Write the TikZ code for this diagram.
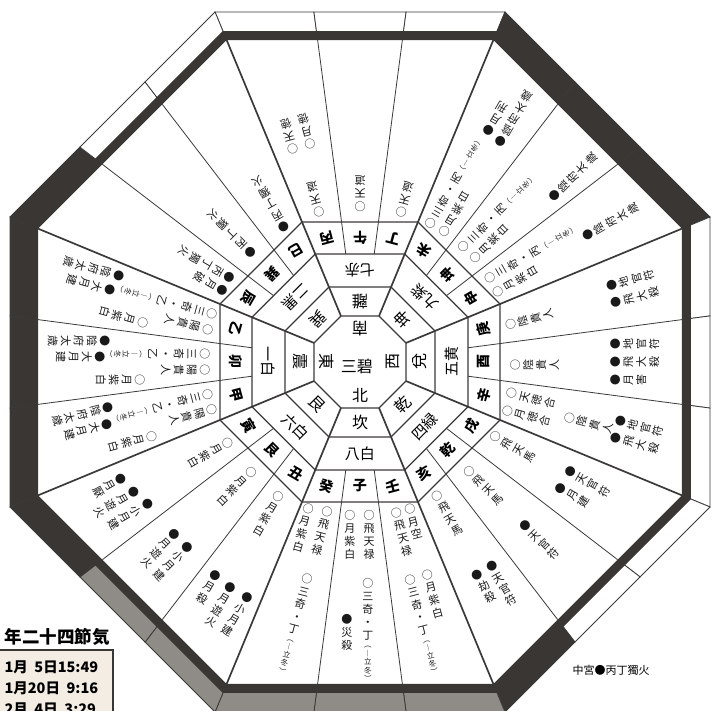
\documentclass[tikz,border=0pt]{standalone}
\usepackage{fontspec}
\setmainfont{Noto Sans CJK JP}
\usetikzlibrary{calc}
\definecolor{framedark}{HTML}{3A3634}
\definecolor{framegray}{HTML}{8F8B87}
\definecolor{rule}{HTML}{3C3A39}
\definecolor{tabbg}{HTML}{F3EDE4}
\newcounter{labno}
\ExplSyntaxOn
\NewDocumentCommand{\vt}{m o}
 {
  \vbox
   {
    \baselineskip=13pt \lineskiplimit=-100pt
    \tl_map_inline:nn {#1} { \hbox_to_wd:nn {13pt} { \hss ##1 \hss } }
    \IfValueT {#2}
     {
      \fontsize{7.5}{8.5}\selectfont \baselineskip=8.5pt
      \tl_map_inline:nn {#2} { \hbox_to_wd:nn {13pt} { \hss ##1 \hss } }
     }
   }
 }
\ExplSyntaxOff
\newcommand\octo[1]{(22.5:{#1*1.08239}) \foreach \k in {1,...,7}{-- ({22.5+45*\k}:{#1*1.08239})} -- cycle}
\newcommand\lab[4]{\stepcounter{labno}%
  \node[lab, rotate=#1+90, anchor=north] (lab\thelabno) at ($(#1:#3)+(#1+90:#2)$) {#4};}
\tikzset{
  lab/.style={inner sep=0pt, font=\fontsize{11}{13}\selectfont, text=black!90},
  dirlab/.style={inner sep=0pt, font=\fontsize{14}{14}\selectfont\bfseries},
  starlab/.style={inner sep=0pt, font=\fontsize{15}{15}\selectfont},
  gualab/.style={inner sep=0pt, font=\fontsize{16}{16}\selectfont},
  spoke/.style={draw=rule, line width=1.7pt},
  ringline/.style={draw=rule, line width=1.3pt},
  divline/.style={draw=rule, line width=0.8pt}
}
\begin{document}
\begin{tikzpicture}[x=1pt, y=1pt]
  \useasboundingbox (-360,-349) rectangle (352,362);
  \fill[white] (-360,-349) rectangle (352,362);
  \foreach \c/\s/\fc in {105/90/white, 90/90/white, 75/90/white,
      60/45/framedark, 45/45/framedark, 30/45/framedark,
      15/0/white, 0/0/white, -15/0/white,
      -30/-45/white, -45/-45/white, -60/-45/framedark,
      -75/-90/framegray, -90/-90/framegray, -105/-90/framegray,
      -120/-135/framegray, -135/-135/framegray, -150/-135/framedark,
      195/180/framedark, 180/180/framedark, 165/180/framedark,
      150/135/framedark, 135/135/white, 120/135/white}
    \filldraw[fill=\fc, draw=rule, line width=0.8pt]
      ({\c-7.5}:{330/cos(\c-7.5-\s)}) -- ({\c+7.5}:{330/cos(\c+7.5-\s)})
      -- ({\c+7.5}:{350/cos(\c+7.5-\s)}) -- ({\c-7.5}:{350/cos(\c-7.5-\s)}) -- cycle;
  \fill[framedark, even odd rule] \octo{322} \octo{331};
  \draw[ringline] \octo{46};
  \draw[ringline] \octo{75};
  \draw[ringline] \octo{108};
  \draw[ringline] \octo{140};
  \foreach \k in {0,...,7}
    \draw[spoke] ({22.5+45*\k}:{46*1.08239}) -- ({22.5+45*\k}:{322*1.08239});
  \foreach \k in {0,...,7}
    \foreach \o in {-7.5,7.5}
      \draw[divline] ({45*\k+\o}:{108/cos(7.5)}) -- ({45*\k+\o}:{322/cos(7.5)});

  \node[gualab] (sanpeki) at (-3,-4) {三碧};
  \foreach \a/\t in {90/南, 0/西, -90/北, 180/東}
    \node[gualab, rotate=\a+90] (hou\a) at (\a:33) {\t};
  \foreach \a/\t in {90/離, 45/坤, 0/兌, -45/乾, -90/坎, -135/艮, 180/震, 135/巽}
    \node[gualab, rotate=\a+90] (ke\a) at (\a:60) {\t};
  \foreach \a/\t in {90/七赤, 45/九紫, 0/五黄, -45/四緑, -90/八白, -135/六白, 180/一白, 135/二黒}
    \node[starlab, rotate=\a+90] (sei\a) at (\a:91.5) {\t};
  \foreach \a/\t in {90/午, 75/丁, 60/未, 45/坤, 30/申, 15/庚, 0/酉, -15/辛, -30/戌, -45/乾, -60/亥,
      -75/壬, -90/子, -105/癸, -120/丑, -135/艮, -150/寅, -165/甲, 180/卯, 165/乙, 150/辰, 135/巽, 120/巳, 105/丙}
    \node[dirlab, rotate=\a+90] (shi\a) at (\a:{124/cos(\a-45*round(\a/45))}) {\t};

  \lab{105}{1}{150}{\vt{○天道}}
  \lab{105}{10}{218}{\vt{○天徳}}
  \lab{105}{-8}{218}{\vt{○月徳}}
  \lab{90}{0}{150}{\vt{○天道}}
  \lab{75}{-1}{150}{\vt{○天道}}
  \lab{60}{8}{150}{\vt{○三奇・丙}[︵︱立冬︶]}
  \lab{60}{-8}{150}{\vt{○月紫白}}
  \lab{60}{4}{260}{\vt{●月刑}}
  \lab{60}{-12}{256}{\vt{●陰府太歳}}
  \lab{45}{8}{150}{\vt{○三奇・丙}[︵︱立冬︶]}
  \lab{45}{-8}{150}{\vt{○月紫白}}
  \lab{45}{-20}{250}{\vt{●陰府太歳}}
  \lab{30}{8}{150}{\vt{○三奇・丙}[︵︱立冬︶]}
  \lab{30}{-8}{150}{\vt{○月紫白}}
  \lab{30}{-4}{256}{\vt{●陰府太歳}}
  \lab{15}{-3}{150}{\vt{○陰貴人}}
  \lab{15}{9}{258}{\vt{●地官符}}
  \lab{15}{-9}{258}{\vt{●飛大殺}}
  \lab{0}{-3}{150}{\vt{○陰貴人}}
  \lab{0}{18}{250}{\vt{●地官符}}
  \lab{0}{0}{250}{\vt{●飛大殺}}
  \lab{0}{-18}{250}{\vt{●月害}}
  \lab{-15}{9}{150}{\vt{○天徳合}}
  \lab{-15}{-9}{150}{\vt{○月徳合}}
  \lab{-15}{0}{212}{\vt{○陰貴人}}
  \lab{-15}{10}{262}{\vt{●地官符}}
  \lab{-15}{-7}{262}{\vt{●飛大殺}}
  \lab{-30}{3}{150}{\vt{○飛天馬}}
  \lab{-30}{10}{232}{\vt{●天官符}}
  \lab{-30}{-9}{232}{\vt{●月建}}
  \lab{-45}{0}{150}{\vt{○飛天馬}}
  \lab{-45}{1}{228}{\vt{●天官符}}
  \lab{-60}{0}{150}{\vt{○飛天馬}}
  \lab{-60}{12}{238}{\vt{●天官符}}
  \lab{-60}{-5}{238}{\vt{●劫殺}}
  \lab{-75}{10}{150}{\vt{○月空}}
  \lab{-75}{-4}{150}{\vt{○飛天禄}}
  \lab{-75}{10}{218}{\vt{○月紫白}}
  \lab{-75}{-8}{218}{\vt{○三奇・丁}[︵︱立冬︶]}
  \lab{-90}{9}{148}{\vt{○飛天禄}}
  \lab{-90}{-10}{148}{\vt{○月紫白}}
  \lab{-90}{8}{216}{\vt{○三奇・丁}[︵︱立冬︶]}
  \lab{-90}{-13}{252}{\vt{●災殺}}
  \lab{-105}{7}{148}{\vt{○飛天禄}}
  \lab{-105}{-12}{150}{\vt{○月紫白}}
  \lab{-105}{5}{218}{\vt{○三奇・丁}[︵︱立冬︶]}
  \lab{-120}{-3}{152}{\vt{○月紫白}}
  \lab{-120}{20}{255}{\vt{●小月建}}
  \lab{-120}{1}{255}{\vt{●月遊火}}
  \lab{-120}{-18}{252}{\vt{●月殺}}
  \lab{-135}{1}{150}{\vt{○月紫白}}
  \lab{-135}{9}{248}{\vt{●小月建}}
  \lab{-135}{-9}{248}{\vt{●月遊火}}
  \lab{-150}{4}{150}{\vt{○月紫白}}
  \lab{-150}{17}{250}{\vt{●小月建}}
  \lab{-150}{0}{256}{\vt{●月遊火}}
  \lab{-150}{-18}{260}{\vt{●月厭}}
  \foreach \p in {-165,180,165}{
    \lab{\p}{8}{150}{\vt{○陽貴人}}
    \lab{\p}{-8}{150}{\vt{○三奇・乙}[︵︱立冬︶]}
    \lab{\p}{18}{215}{\vt{○月紫白}}
    \lab{\p}{-5}{255}{\vt{●大月建}}
    \lab{\p}{-21}{250}{\vt{●陰府太歳}}
  }
  \lab{150}{7}{150}{\vt{●月破}}
  \lab{150}{-8}{150}{\vt{●丙丁獨火}}
  \lab{135}{0}{150}{\vt{●丙丁獨火}}
  \lab{120}{-2}{150}{\vt{●丙丁獨火}}

  \fill[tabbg] (-365,-288) rectangle (-247,-365);
  \draw[framedark, line width=1.8pt] (-365,-288) -- (-247,-288) -- (-247,-365);
  \node[anchor=west, font=\fontsize{17.5}{18}\selectfont\bfseries] (sekki) at (-359,-275) {年二十四節気};
  \node[anchor=west, font=\fontsize{14.5}{15}\selectfont\bfseries] (sekki1) at (-359,-305) {1月\ \ 5日15:49};
  \node[anchor=west, font=\fontsize{14.5}{15}\selectfont\bfseries] (sekki2) at (-359,-326) {1月20日\ \ 9:16};
  \node[anchor=west, font=\fontsize{14.5}{15}\selectfont\bfseries] (sekki3) at (-359,-347) {2月\ \ 4日\ \ 3:29};
  \node[anchor=west, font=\fontsize{11}{11}\selectfont] (chukyu) at (209,-308) {中宮●丙丁獨火};
\end{tikzpicture}
\end{document}
